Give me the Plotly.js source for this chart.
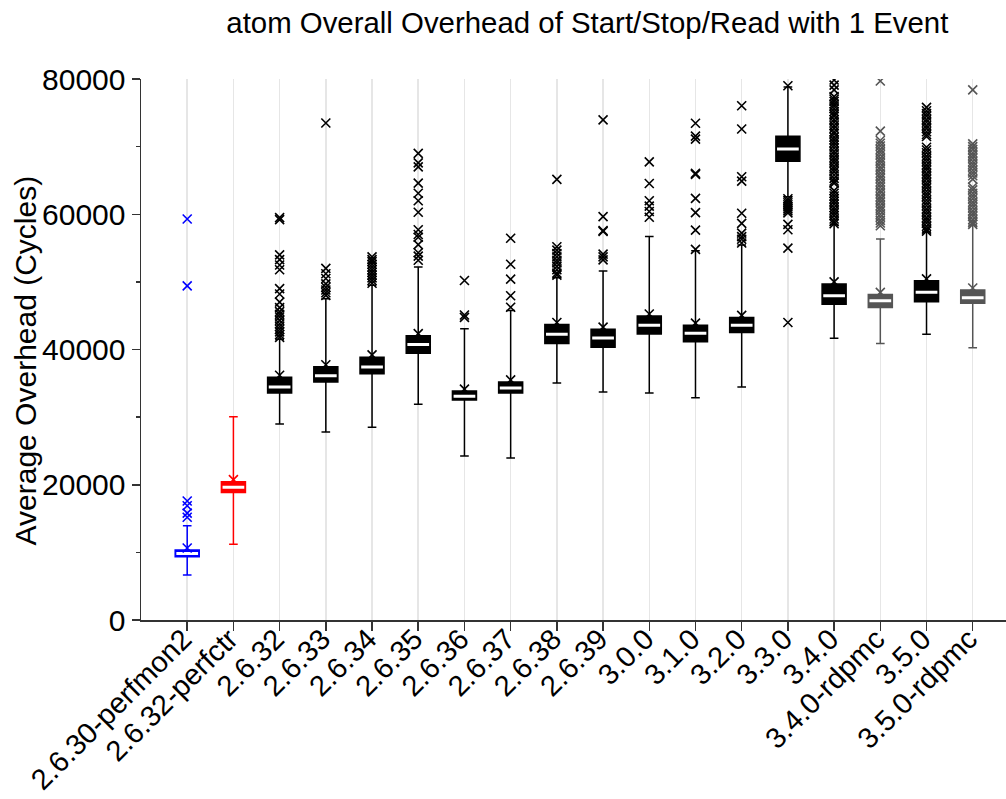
<!DOCTYPE html>
<html><head><meta charset="utf-8">
<script src="https://cdn.plot.ly/plotly-3.0.1.min.js"></script>
<style>html,body{margin:0;padding:0;background:#fff}#chart{width:1006px;height:799px}</style>
</head><body><div id="chart"></div>
<script>
const categories = ['2.6.30-perfmon2','2.6.32-perfctr','2.6.32','2.6.33','2.6.34','2.6.35','2.6.36','2.6.37','2.6.38','2.6.39','3.0.0','3.1.0','3.2.0','3.3.0','3.4.0','3.4.0-rdpmc','3.5.0','3.5.0-rdpmc'];
const lowerFence = [6650, 11200, 29000, 27800, 28500, 31900, 24250, 23950, 35050, 33700, 33550, 32850, 34450, 62600, 41650, 40900, 42250, 40250];
const q1 = [9350, 18850, 33550, 35200, 36400, 39450, 32550, 33550, 40900, 40350, 42300, 41150, 42500, 67850, 46700, 46200, 47050, 46850];
const median = [9830, 19620, 34450, 36100, 37400, 40750, 33100, 34300, 42250, 41700, 43600, 42400, 43600, 69650, 47950, 47200, 48450, 47650];
const q3 = [10350, 20450, 35900, 37450, 38850, 42050, 33850, 35200, 43700, 43000, 44950, 43600, 44750, 71550, 49700, 48150, 50150, 48800];
const upperFence = [13950, 30050, 41500, 47500, 49500, 52200, 43050, 45750, 50600, 51600, 56700, 54600, 55450, 78800, 58500, 56350, 57400, 58400];
const means = [10650, 20750, 36200, 37750, 39200, 42350, 34150, 35500, 44000, 43300, 45250, 43900, 45050, 0, 50000, 48450, 50450, 49100];
const outliers = [
  [59300, 49400, 17600, 16900, 15800, 15200],
  [],
  [59500, 59200, 54000, 53300, 52500, 51800, 49000, 48200, 47000, 46200, 45600, 45200, 44800, 44300, 43800, 43400, 43000, 42600, 42200, 41800],
  [73500, 52000, 51200, 50500, 49700, 49200, 48800, 48400, 48000],
  [53700, 53300, 53000, 52600, 52200, 51800, 51400, 51000, 50600, 50200, 49800],
  [69000, 67600, 67000, 64600, 63100, 62000, 60300, 57700, 57000, 56600, 55500, 54300, 53800, 53200],
  [50200, 45100, 44750],
  [56450, 52600, 50400, 47950, 46250],
  [65150, 55200, 54700, 54200, 53700, 53200, 52800, 52300, 51800, 51300, 51000],
  [73950, 59650, 57600, 57450, 54100, 53700, 53250],
  [67750, 64550, 62000, 61200, 60400, 59550],
  [73450, 71550, 71100, 66050, 65900, 62350, 60250, 57650, 54800],
  [76050, 72600, 65550, 64900, 60150, 58650, 57200, 56700, 56300, 55750],
  [79000, 62300, 62000, 61700, 61400, 61100, 60800, 60500, 60200, 58500, 57700, 55000, 44000],
  [79850, 79100, 78400, 77400, 77000, 76700, 76300, 76000, 75600, 75200, 74800, 74500, 74000, 73600, 73100, 72700, 72200, 71900, 71400, 71000, 70600, 70200, 69800, 69300, 68900, 68400, 68000, 67600, 67100, 66700, 66300, 65800, 65300, 64900, 64600, 63500, 63100, 62700, 62300, 61900, 61500, 61000, 60600, 60200, 59800, 59300, 58900, 58600],
  [79700, 72300, 70900, 70500, 70100, 69600, 69200, 68800, 68300, 67900, 67500, 67000, 66600, 66100, 65700, 65300, 64800, 64400, 64000, 63500, 63100, 62600, 62200, 61800, 61300, 60900, 60500, 60000, 59600, 59100, 58700, 58300],
  [75800, 75300, 74900, 74500, 74000, 73600, 73100, 72700, 72200, 71800, 71500, 69900, 69500, 69100, 68600, 68200, 67800, 67300, 66900, 66500, 66000, 65600, 65200, 64700, 64300, 63900, 63400, 63000, 62600, 62100, 61700, 61300, 60800, 60400, 60000, 59500, 59100, 58700, 58200, 57800, 57500],
  [78400, 70400, 70000, 69600, 69100, 68700, 68300, 67800, 67400, 67000, 66500, 66100, 65700, 65200, 64000, 63600, 63100, 62700, 62300, 61800, 61400, 61000, 60500, 60100, 59700, 59200, 58800, 58500]
];

function colorFor(i) {
  if (i === 0) return '#0000ff';
  if (i === 1) return '#ff0000';
  if (categories[i].indexOf('rdpmc') >= 0) return '#555555';
  return '#000000';
}

const traces = [];
categories.forEach((c, i) => {
  const col = colorFor(i);
  const ys = outliers[i].slice();
  if (means[i] > 0) ys.push(means[i]);
  if (ys.length) {
    traces.push({
      type: 'scatter', mode: 'markers', x: ys.map(() => c), y: ys,
      marker: {symbol: 'x-thin-open', size: 9, color: col, line: {color: col, width: 1.6}},
      hoverinfo: 'y', showlegend: false, cliponaxis: true
    });
  }
});
categories.forEach((c, i) => {
  const col = colorFor(i);
  traces.push({
    type: 'box', x: [c], q1: [q1[i]], median: [median[i]], q3: [q3[i]],
    lowerfence: [lowerFence[i]], upperfence: [upperFence[i]],
    boxpoints: false, width: 0.52, whiskerwidth: 0.36,
    fillcolor: col, line: {color: col, width: 1.5}, showlegend: false
  });
});
categories.forEach((c, i) => {
  traces.push({
    type: 'box', x: [c], q1: [median[i]], median: [median[i]], q3: [median[i]],
    lowerfence: [median[i]], upperfence: [median[i]],
    boxpoints: false, width: 0.47, whiskerwidth: 0,
    fillcolor: '#ffffff', line: {color: '#ffffff', width: 3}, showlegend: false, hoverinfo: 'skip'
  });
});

const font = 'Liberation Sans, Arial, Helvetica, sans-serif';
const layout = {
  width: 1006, height: 799,
  margin: {l: 141, r: 0, t: 79, b: 179},
  paper_bgcolor: '#ffffff', plot_bgcolor: '#ffffff',
  font: {family: font, size: 29, color: '#000'},
  showlegend: false, boxmode: 'overlay',
  title: {text: 'atom Overall Overhead of Start/Stop/Read with 1 Event', font: {family: font, size: 29.4, color: '#000'},
          x: 0.516, xref: 'paper', xanchor: 'center', y: 0.972, yref: 'container', yanchor: 'middle'},
  xaxis: {
    type: 'category', categoryorder: 'array', categoryarray: categories,
    range: [-1, 17.72], showgrid: true, gridcolor: '#e6e6e6', gridwidth: 1.5,
    ticks: 'outside', ticklen: 9, tickwidth: 1.5, tickcolor: '#333',
    showline: true, linecolor: '#333', linewidth: 1.5, zeroline: false,
    tickangle: -45, ticklabelstandoff: -20, ticklabelshift: -4,
    tickfont: {family: font, size: 29, color: '#000'}
  },
  yaxis: {
    range: [0, 80000], tickvals: [0, 20000, 40000, 60000, 80000], tickformat: 'd',
    showgrid: false, zeroline: false, showline: true, linecolor: '#333', linewidth: 1.5,
    ticks: 'outside', ticklen: 8, tickwidth: 1.5, tickcolor: '#333',
    minor: {dtick: 10000, tick0: 0, ticks: 'outside', ticklen: 4, tickwidth: 1.5, tickcolor: '#333', showgrid: false},
    tickfont: {family: font, size: 30, color: '#000'}
  },
  annotations: [{
    text: 'Average Overhead (Cycles)', textangle: -90, showarrow: false,
    xref: 'paper', x: -0.134, xanchor: 'center', yref: 'paper', y: 0.48, yanchor: 'middle',
    font: {family: font, size: 30, color: '#000'}
  }]
};
Plotly.newPlot('chart', traces, layout, {displayModeBar: false, staticPlot: true});
</script>
</body></html>
